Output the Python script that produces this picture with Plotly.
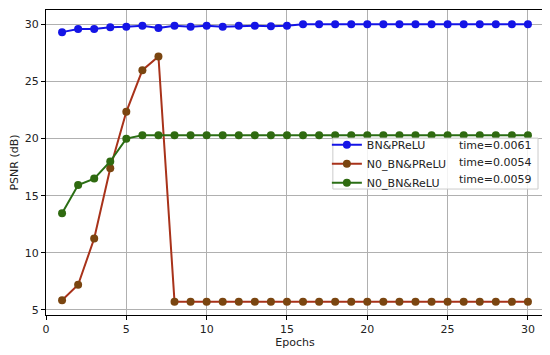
import plotly.graph_objects as go

epochs = list(range(1, 31))
bn_prelu = [29.33, 29.6, 29.6, 29.75, 29.8, 29.9, 29.7, 29.9, 29.8, 29.9, 29.8, 29.88, 29.9, 29.85, 29.9,
            30.02, 30.03, 30.03, 30.03, 30.03, 30.03, 30.03, 30.03, 30.03, 30.03, 30.03, 30.03, 30.03, 30.03, 30.03]
no_bn_prelu = [5.85, 7.2, 11.25, 17.4, 22.35, 26.0, 27.2] + [5.7] * 23
no_bn_relu = [13.46, 15.94, 16.5, 18.0, 20.0] + [20.3] * 25

names = ["BN&PReLU", "N0_BN&PReLU", "N0_BN&ReLU"]
times = ["time=0.0061", "time=0.0054", "time=0.0059"]
series = [bn_prelu, no_bn_prelu, no_bn_relu]
line_colors = ["#1414e6", "#a8321a", "#2a6e14"]
marker_colors = ["#1414e6", "#7a4510", "#2f6a10"]

font = "DejaVu Sans, sans-serif"

fig = go.Figure()
for name, ys, lc, mc in zip(names, series, line_colors, marker_colors):
    fig.add_trace(go.Scatter(x=epochs, y=ys, name=name, mode="lines+markers",
                             line=dict(color=lc, width=2),
                             marker=dict(color=mc, size=8)))

# legend frame (drawn as a shape so it can hold the time column too)
fig.add_shape(type="rect", xref="paper", yref="paper", x0=0.576, x1=0.988, y0=0.413, y1=0.58,
              fillcolor="rgba(255,255,255,0.85)", line=dict(color="#cccccc", width=1), layer="above")

# time column of the legend
for i, t in enumerate(times):
    fig.add_annotation(text=t, xref="paper", yref="paper", x=0.825, y=0.557 - i * 0.0557,
                       xanchor="left", yanchor="middle", showarrow=False,
                       font=dict(family=font, size=11, color="#222"))

axis = dict(showline=True, linecolor="black", linewidth=1, mirror=True,
            ticks="outside", ticklen=4, tickcolor="black",
            showgrid=True, gridcolor="#b0b0b0", gridwidth=1, zeroline=False,
            tickfont=dict(family=font, size=11, color="#222"))

# page body has an 8px margin, so the figure is 8px smaller than the window
fig.update_layout(
    width=542, height=347,
    margin=dict(l=38, r=6, t=2, b=40),
    plot_bgcolor="white", paper_bgcolor="white",
    font=dict(family=font, size=11, color="#222"),
    xaxis=dict(axis, range=[0, 31], tickvals=[0, 5, 10, 15, 20, 25, 30],
               title=dict(text="Epochs", font=dict(size=11), standoff=2)),
    yaxis=dict(axis, range=[4.55, 31.27], tickvals=[5, 10, 15, 20, 25, 30],
               title=dict(text="PSNR (dB)", font=dict(size=11), standoff=6)),
    legend=dict(x=0.564, y=0.606, xanchor="left", yanchor="top",
                bgcolor="rgba(0,0,0,0)", borderwidth=0,
                font=dict(family=font, size=11, color="#222")),
    showlegend=True,
)

fig.write_html("out.html")
